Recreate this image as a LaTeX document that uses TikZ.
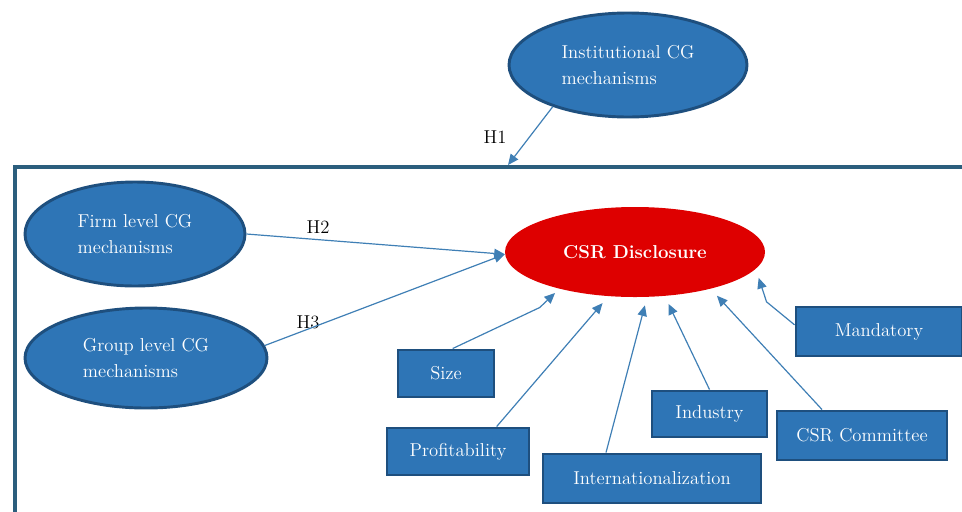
\documentclass[tikz,border=0pt]{standalone}
\usetikzlibrary{arrows.meta,shapes.geometric}
\definecolor{nodeblue}{HTML}{2E75B6}
\definecolor{nodeedge}{HTML}{1E4F7E}
\definecolor{linkblue}{HTML}{3F7FB5}
\definecolor{framecol}{HTML}{2B5E7D}
\definecolor{csrred}{HTML}{DE0000}
\begin{document}
\begin{tikzpicture}[x=0.75pt,y=-0.75pt,
  every node/.style={font=\fontsize{14}{20}\selectfont},
  blueell/.style={ellipse, draw=nodeedge, line width=2.2pt, fill=nodeblue, text=white, align=left, inner sep=0pt},
  bluebox/.style={rectangle, draw=nodeedge, line width=2.2pt, fill=nodeblue, text=white, inner sep=0pt},
  link/.style={linkblue, line width=0.9pt, -{Triangle[length=8pt,width=7pt]}},
  hlabel/.style={text=black}
]
\useasboundingbox (0,0) rectangle (962,511);
\draw[framecol, line width=3pt] (15,520) -- (15,167) -- (975,167);

\node[blueell, minimum width=178.5pt, minimum height=78pt] (inst) at (628,65) {Institutional CG\\mechanisms};
\node[blueell, minimum width=165pt, minimum height=78pt] (firm) at (135,234) {Firm level CG\\mechanisms};
\node[blueell, minimum width=181.5pt, minimum height=75pt] (group) at (146,358) {Group level CG\\mechanisms};
\node[ellipse, fill=csrred, text=white, inner sep=0pt, minimum width=195pt, minimum height=67.5pt, font=\fontsize{14}{20}\selectfont\bfseries] (csr) at (635,252) {CSR Disclosure};

\node[bluebox, minimum width=72pt, minimum height=35.25pt] (size) at (446,373.5) {Size};
\node[bluebox, minimum width=106.5pt, minimum height=35.25pt] (prof) at (458,451.5) {Profitability};
\node[bluebox, minimum width=163.5pt, minimum height=36.75pt] (intl) at (652,478.5) {Internationalization};
\node[bluebox, minimum width=86.25pt, minimum height=34.5pt] (ind) at (709.5,414) {Industry};
\node[bluebox, minimum width=127.5pt, minimum height=36.75pt] (comm) at (862,435.5) {CSR Committee};
\node[bluebox, minimum width=124.5pt, minimum height=36.75pt] (mand) at (879,331.5) {Mandatory};

\coordinate (h1end) at (508,165);
\node[hlabel] (h1) at (495,137) {H1};
\node[hlabel] (h2) at (318,227) {H2};
\node[hlabel] (h3) at (308,322) {H3};

\draw[link] (inst.209) -- (h1end);
\draw[link] (firm.east) -- (csr.181);
\draw[link] (group.6) -- (csr.181);
\draw[link, shorten >=4.5pt] ([xshift=5pt]size.north) -- ++(87,-41) -- (csr.206.6);
\draw[link, shorten >=6.7pt] ([xshift=29pt]prof.north) -- (csr.239);
\draw[link, shorten >=6.4pt] ([xshift=-34.5pt]intl.north) -- (csr.285);
\draw[link, shorten >=6.5pt] (ind.north) -- (csr.304);
\draw[link, shorten >=7pt] ([xshift=-30pt]comm.north) -- (csr.334);
\draw[link, shorten >=7pt] ([yshift=5pt]mand.west) -- ++(-28,-23) -- (csr.352);
\end{tikzpicture}
\end{document}
